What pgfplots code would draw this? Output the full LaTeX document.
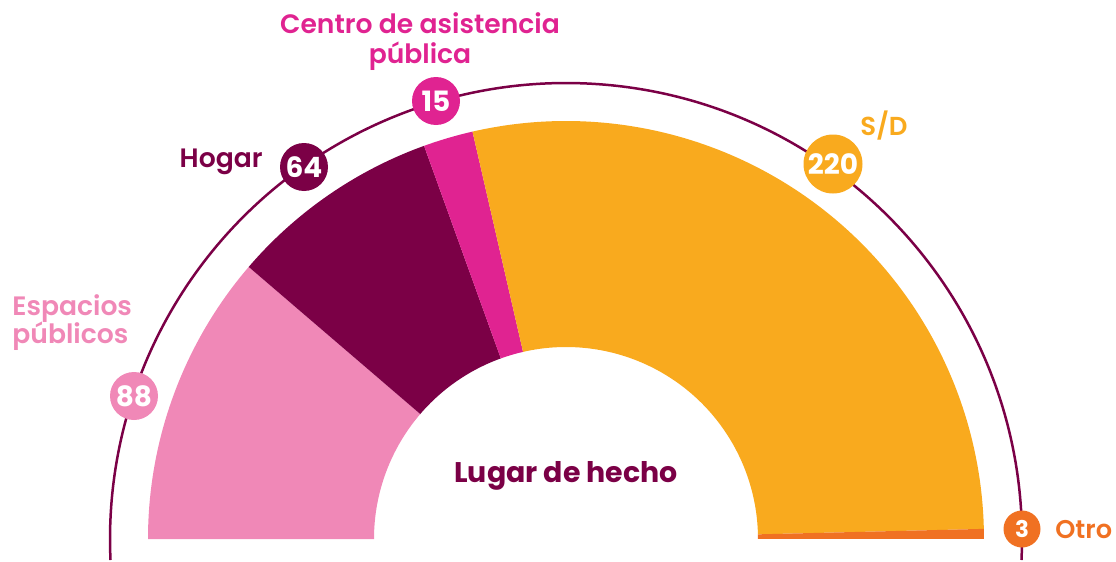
\documentclass[border=0pt]{standalone}
\usepackage{pgfplots}
\pgfplotsset{compat=1.18}
\usepackage{fontspec}
\setmainfont{Poppins}
\newfontfamily\semib{Poppins SemiBold}
\definecolor{cpink}{HTML}{F088B7}
\definecolor{cmaroon}{HTML}{7B0046}
\definecolor{cmagenta}{HTML}{E02391}
\definecolor{cyellow}{HTML}{F9AA1E}
\definecolor{corange}{HTML}{F07122}
\newcommand\fs[1]{\fontsize{#1}{#1}\selectfont}
\begin{document}
\begin{tikzpicture}
\begin{axis}[x=0.5pt,y=0.5pt,xmin=-566,xmax=550,ymin=-21,ymax=539,
  hide axis,clip=false,scale only axis]
\path (axis cs:-566,-21) rectangle (axis cs:550,539);
% outer thin ring
\draw[cmaroon,line width=1.25pt] ([shift={(-2.64:228pt)}]axis cs:0,0)
  arc[start angle=-2.64,end angle=182.64,radius=228pt];
% slices: values 88, 64, 15, 220, 3 (total 390)
\gdef\acur{180}
\foreach \v/\c in {88/cpink,64/cmaroon,15/cmagenta,220/cyellow,3/corange}{
  \pgfmathsetmacro\anext{\acur-\v/390*180}
  \edef\temp{\noexpand\fill[\c] ([shift={(\acur:209pt)}]axis cs:0,0)
    arc[start angle=\acur,end angle=\anext,radius=209pt]
    -- ([shift={(\anext:96pt)}]axis cs:0,0)
    arc[start angle=\anext,end angle=\acur,radius=96pt] -- cycle;}
  \temp
  \global\let\acur\anext
}
% badges
\tikzset{badge/.style={circle,inner sep=0pt,text=white,font=\bfseries\fs{14}}}
\node[badge,fill=cpink,minimum size=24pt] at (axis cs:-432,143) {88};
\node[badge,fill=cmaroon,minimum size=24pt] at (axis cs:-262,372) {64};
\node[badge,fill=cmagenta,minimum size=24pt] at (axis cs:-130,438) {15};
\node[badge,fill=cyellow,minimum size=29.5pt] at (axis cs:267,375) {220};
\node[badge,fill=corange,minimum size=18.5pt,font=\bfseries\fs{11.5}] at (axis cs:456,10) {3};
% labels
\tikzset{lab/.style={inner sep=0pt,font=\semib\fs{13.3}}}
\node[lab,text=cmagenta,anchor=base] at (axis cs:-146,506) {Centro de asistencia};
\node[lab,text=cmagenta,anchor=base] at (axis cs:-146,476) {pública};
\node[lab,text=cmaroon,anchor=base east] at (axis cs:-303,372) {Hogar};
\node[lab,text=cpink,anchor=base west] at (axis cs:-554,224) {Espacios};
\node[lab,text=cpink,anchor=base west] at (axis cs:-554,196) {públicos};
\node[lab,text=cyellow,anchor=base,font=\semib\fs{13}] at (axis cs:318,404) {S/D};
\node[lab,text=corange,anchor=base west,font=\semib\fs{12.8}] at (axis cs:489,1) {Otro};
\node[lab,text=cmaroon,anchor=base,font=\bfseries\fs{14.2}] at (axis cs:0,57) {Lugar de hecho};
\end{axis}
\end{tikzpicture}
\end{document}
